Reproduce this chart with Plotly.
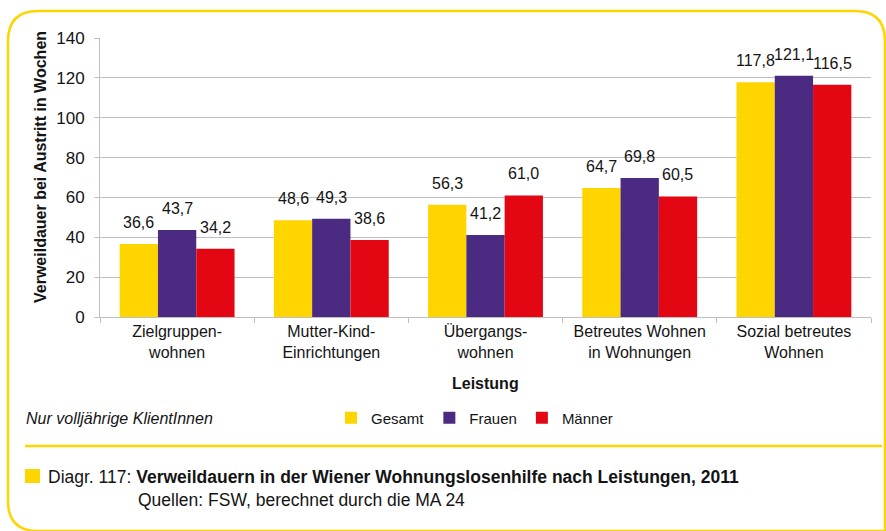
import plotly.graph_objects as go

# ---- data ----
categories = ["Zielgruppen-<br>wohnen", "Mutter-Kind-<br>Einrichtungen", "Übergangs-<br>wohnen",
              "Betreutes Wohnen<br>in Wohnungen", "Sozial betreutes<br>Wohnen"]
gesamt = [36.6, 48.6, 56.3, 64.7, 117.8]
frauen = [43.7, 49.3, 41.2, 69.8, 121.1]
maenner = [34.2, 38.6, 61.0, 60.5, 116.5]
series_names = ["Gesamt", "Frauen", "Männer"]
y_ticks = [0, 20, 40, 60, 80, 100, 120, 140]

# ---- style ----
W, H = 886, 531
L, R, T, B = 100, 15, 38, 214
PW, PH = W - L - R, H - T - B
FONT = "Liberation Sans, Arial, sans-serif"
TXT = "#141414"
colors = ["#FFD500", "#4B2A82", "#E30613"]
YELLOW = "#FFD500"
GRID = "#BFBFBF"
BARGAP = 0.255


def px_x(px):
    return (px - L) / PW


def px_y(py):
    return (H - B - py) / PH


series = [gesamt, frauen, maenner]
fig = go.Figure()
for name, vals, col in zip(series_names, series, colors):
    fig.add_trace(go.Bar(x=categories, y=vals, name=name, marker_color=col,
                         marker_line_width=0))

bar_px = (PW / len(categories)) * (1 - BARGAP) / 3
annotations = []
for j, vals in enumerate(series):
    for cat, v in zip(categories, vals):
        annotations.append(dict(x=cat, y=v, xref="x", yref="y", text=f"{v:.1f}".replace(".", ","),
                                showarrow=False, xshift=(j - 1) * bar_px, yshift=11,
                                xanchor="center", yanchor="bottom",
                                font=dict(size=16, color=TXT, family=FONT)))


def note(px, py, text, size=16, xanchor="left", **kw):
    return dict(x=px_x(px), y=px_y(py), xref="paper", yref="paper", text=text, showarrow=False,
                xanchor=xanchor, yanchor="middle", font=dict(size=size, color=TXT, family=FONT), **kw)


annotations += [
    note(40, 167, "<b>Verweildauer bei Austritt in Wochen</b>", 16, "center", textangle=-90),
    note(485, 383, "<b>Leistung</b>", 16, "center"),
    note(24, 418, "<i>Nur volljährige KlientInnen</i>", 16),
    note(46, 477, "Diagr. 117: <b>Verweildauern in der Wiener Wohnungslosenhilfe nach Leistungen, 2011</b>", 17.5),
    note(136, 500, "Quellen: FSW, berechnet durch die MA 24", 17.5),
]


# frame path (rounded)
def P(px, py):
    return f"{px_x(px)},{px_y(py)}"


x0, y0, x1, y1, r = 8, 11, 885, 531, 30
frame = (f"M {P(x0, y0 + r)} Q {P(x0, y0)} {P(x0 + r, y0)} L {P(x1 - r, y0)} "
         f"Q {P(x1, y0)} {P(x1, y0 + r)} L {P(x1, y1)} L {P(x0 + r, y1)} "
         f"Q {P(x0, y1)} {P(x0, y1 - r)} Z")
shapes = [
    dict(type="path", path=frame, xref="paper", yref="paper",
         line=dict(color=YELLOW, width=2.5), fillcolor="rgba(0,0,0,0)", layer="below"),
    dict(type="line", xref="paper", yref="paper", x0=px_x(25), x1=px_x(882), y0=px_y(446), y1=px_y(446),
         line=dict(color=YELLOW, width=2.5)),
    dict(type="rect", xref="paper", yref="paper", x0=px_x(25), x1=px_x(40), y0=px_y(469), y1=px_y(483),
         line=dict(width=0), fillcolor=YELLOW),
]

fig.update_layout(
    width=W, height=H, margin=dict(l=L, r=R, t=T, b=B),
    paper_bgcolor="white", plot_bgcolor="white",
    barmode="group", bargap=BARGAP, bargroupgap=0,
    font=dict(family=FONT, size=16, color=TXT),
    showlegend=True,
    legend=dict(orientation="h", x=px_x(331), y=px_y(418), xanchor="left", yanchor="middle",
                font=dict(size=15, family=FONT, color=TXT), bgcolor="rgba(0,0,0,0)",
                traceorder="normal", itemwidth=30),
    annotations=annotations, shapes=shapes,
    xaxis=dict(showline=True, linecolor=GRID, ticks="outside", tickson="boundaries",
               ticklen=5, tickcolor=GRID, tickfont=dict(size=16, family=FONT, color=TXT),
               showgrid=False),
    yaxis=dict(range=[0, 140], tickvals=y_ticks, showline=True, linecolor=GRID,
               ticks="outside", ticklen=5, tickcolor=GRID, gridcolor=GRID,
               ticklabelstandoff=6,
               tickfont=dict(size=17, family=FONT, color=TXT), zeroline=False),
)

fig.write_html("out.html", config={"displayModeBar": False},
               post_script="document.body.style.margin='0';")
